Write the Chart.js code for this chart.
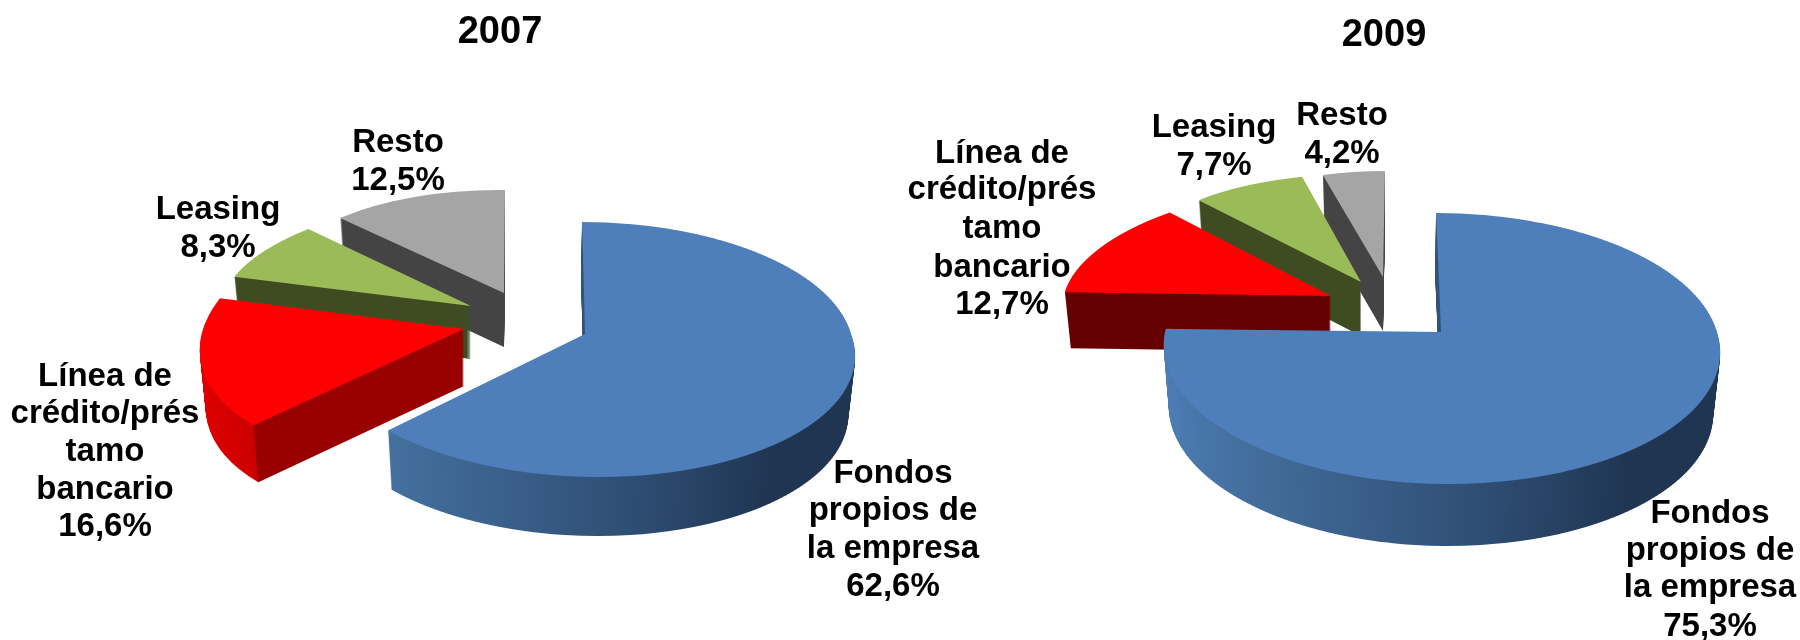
<!DOCTYPE html>
<html>
<head>
<meta charset="utf-8">
<title>Financiación 2007 / 2009</title>
<script src="https://cdn.jsdelivr.net/npm/chart.js@4"></script>
<style>
    html, body { margin: 0; padding: 0; background: #fff; overflow: hidden; }
    canvas { position: absolute; top: 0; }
</style>
</head>
<body>
<canvas id="pie2007" width="1000" height="640" style="left:0"></canvas>
<canvas id="pie2009" width="1008" height="640" style="left:880px"></canvas>
<script>
// Data
const categories = ['Fondos propios de la empresa', 'Línea de crédito/préstamo bancario', 'Leasing', 'Resto'];
const values2007 = [62.6, 16.6, 8.3, 12.5];
const values2009 = [75.3, 12.7, 7.7, 4.2];
const labelLines = [
    ['Fondos', 'propios de', 'la empresa'],
    ['Línea de', 'crédito/prés', 'tamo', 'bancario'],
    ['Leasing'],
    ['Resto'],
];
const topColors = ['#4F7FBA', '#FF0000', '#9BBB59', '#A5A5A5'];

// Side wall colours, as gradient stops across the width of the pie
const blueWall = [[0, '#4E7DB6'], [0.15, '#44709F'], [0.55, '#2F4E74'], [0.8, '#1F3552'], [1, '#1F3552']];
const walls2007 = [blueWall, [[0, '#E00000'], [0.143, '#CC0000'], [0.144, '#990000'], [1, '#990000']], [[0, '#3F4C22'], [1, '#3F4C22']], [[0, '#444444'], [1, '#444444']]];
const walls2009 = [blueWall, [[0, '#660000'], [1, '#660000']], [[0, '#3F4C22'], [1, '#3F4C22']], [[0, '#444444'], [1, '#444444']]];

// 3D look of every slice: apex on the page, flattening of the disc and wall depth
// m = [xx, xyUp, xyDown, yx, yUp, yDown] in pixels for a unit radius
// when yUp and yDown differ the slice is drawn in perspective, row by row
const view2007 = [
    { apex: [585, 334], m: [268, 3, 14, 0, 112, 143], depth: [-1, 59] },
    { apex: [464, 329], m: [262, -34, -34, -4, 133, 133], depth: [0, 57] },
    { apex: [471, 306], m: [251, -21, -21, 1, 108, 108], depth: [0, 53] },
    { apex: [504, 293], m: [233, -1, -1, 3, 103, 103], depth: [0, 54] },
];
const view2009 = [
    { apex: [1441, 332], m: [278, 5, 8, 0, 119, 152], depth: [-1, 62] },
    { apex: [1331, 296], m: [267, -28, -28, 1, 113, 113], depth: [0, 56] },
    { apex: [1361, 282], m: [244, -5, -5, 4, 108, 108], depth: [0, 54] },
    { apex: [1383, 277], m: [238, -2, -2, -1, 106, 106], depth: [0, 54] },
];
const wallShrink = 0.022;
const rowHeight = 2;

// Label anchors: centre x and the baseline of each line
const labels2007 = [[893, [483, 520, 558, 596]], [105, [386, 423, 461, 499, 536]], [218, [219, 257]], [398, [152, 190]]];
const labels2009 = [[1710, [523, 560, 597, 636]], [1002, [163, 199, 238, 277, 314]], [1214, [137, 175]], [1342, [125, 163]]];

const labelFont = 'bold 33px "Liberation Sans", Arial, sans-serif';

// Draws one arc through the slice transform, depth t goes from 0 (top face) to 1 (wall bottom)
function paintArc(ctx, arc, view, left, t, fill) {
    const [xx, xyUp, xyDown, yx, yUp, yDown] = view.m;
    const R = arc.outerRadius;
    const ox = view.apex[0] - left + view.depth[0] * t;
    const oy = Math.round(view.apex[1] + view.depth[1] * t);
    const shrink = 1 - wallShrink * t;
    const saved = arc.options;
    arc.options = Object.assign({}, saved, { backgroundColor: fill, borderWidth: 0 });

    if (yUp === yDown) {
        ctx.save();
        ctx.translate(ox, oy);
        ctx.transform(shrink * xx / R, yx / R, shrink * xyUp / R, yUp / R, 0, 0);
        ctx.translate(-arc.x, -arc.y);
        arc.draw(ctx);
        ctx.restore();
    } else {
        // perspective: k tilts the disc, every screen row gets its own affine piece
        const k = (yDown - yUp) / (yDown + yUp);
        const A = yDown * (1 - k);
        const W = xx * Math.sqrt(1 - k * k);
        for (let s = -yUp - 2; s < yDown + 2; s += rowHeight) {
            const mid = s + rowHeight / 2;
            const yp = mid / (A + k * mid);
            const g = 1 / (1 - k * yp);
            const slope = A * g * g;
            const xy = yp < 0 ? xyUp : xyDown;
            ctx.save();
            ctx.beginPath();
            ctx.rect(0, oy + s, ctx.canvas.width, rowHeight);
            ctx.clip();
            ctx.translate(ox, oy + mid - slope * yp);
            ctx.transform(shrink * W * g / R, yx / R, shrink * xy / R, slope / R, 0, 0);
            ctx.translate(-arc.x, -arc.y);
            arc.draw(ctx);
            ctx.restore();
        }
    }
    arc.options = saved;
}

const pie3d = {
    id: 'pie3d',
    beforeDatasetDraw(chart, args, opts) {
        const ctx = chart.ctx;
        const arcs = args.meta.data;
        // back slices first, Fondos last
        for (let i = arcs.length - 1; i >= 0; i--) {
            const arc = arcs[i];
            const view = opts.view[i];
            const grad = ctx.createLinearGradient(arc.x - arc.outerRadius, 0, arc.x + arc.outerRadius, 0);
            opts.walls[i].forEach(([pos, color]) => grad.addColorStop(pos, color));
            const steps = view.depth[1];
            for (let d = steps; d > 0; d--) {
                paintArc(ctx, arc, view, opts.left, d / steps, grad);
            }
            paintArc(ctx, arc, view, opts.left, 0, topColors[i]);
        }
        return false;
    },
    afterDraw(chart, args, opts) {
        const ctx = chart.ctx;
        ctx.save();
        ctx.font = labelFont;
        ctx.fillStyle = '#000';
        ctx.textAlign = 'center';
        ctx.textBaseline = 'alphabetic';
        const values = chart.data.datasets[0].data;
        labelLines.forEach((lines, i) => {
            const [x, ys] = opts.labels[i];
            const text = lines.concat(values[i].toFixed(1).replace('.', ',') + '%');
            text.forEach((line, j) => ctx.fillText(line, x - opts.left, ys[j]));
        });
        ctx.restore();
    },
};

function makePie(id, title, titleTop, values, view, walls, labels, left) {
    return new Chart(document.getElementById(id), {
        type: 'pie',
        plugins: [pie3d],
        data: {
            labels: categories,
            datasets: [{ data: values, backgroundColor: topColors, borderWidth: 0, radius: 268 }],
        },
        options: {
            responsive: false,
            animation: false,
            events: [],
            layout: { padding: 0 },
            plugins: {
                legend: { display: false },
                tooltip: { enabled: false },
                title: {
                    display: true,
                    text: title,
                    color: '#000',
                    font: { family: '"Liberation Sans", Arial, sans-serif', size: 38, weight: 'bold' },
                    padding: { top: titleTop, bottom: 0 },
                },
                pie3d: { view: view, walls: walls, labels: labels, left: left },
            },
        },
    });
}

makePie('pie2007', '2007', 10, values2007, view2007, walls2007, labels2007, 0);
makePie('pie2009', '2009', 13, values2009, view2009, walls2009, labels2009, 880);
</script>
</body>
</html>
